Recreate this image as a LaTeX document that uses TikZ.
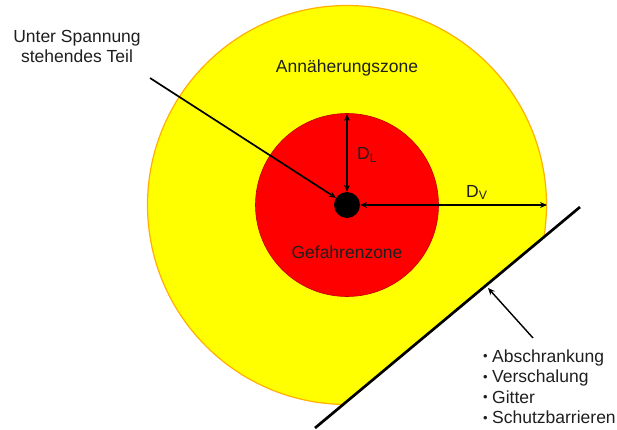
\documentclass[tikz,border=0pt]{standalone}
\usepackage{fontspec}
\setmainfont{Liberation Sans}
\usetikzlibrary{arrows.meta}
\definecolor{txt}{HTML}{1F1F1F}
\definecolor{zoneY}{HTML}{FFFF00}
\definecolor{zoneYedge}{HTML}{FFB000}
\definecolor{zoneR}{HTML}{FF0000}
\definecolor{zoneRedge}{HTML}{C00000}
\tikzset{
  lbl/.style={font=\fontsize{17.5}{20}\selectfont, text=txt, inner sep=0pt},
  arr/.style={line width=1.7pt, draw=black, -{Stealth[length=7pt,width=6pt]}},
  darr/.style={line width=1.7pt, draw=black, {Stealth[length=7pt,width=6pt]}-{Stealth[length=7pt,width=6pt]}},
  barrier/.style={line width=2.7pt, draw=black},
}
\begin{document}
\begin{tikzpicture}[x=1pt,y=-1pt]
\useasboundingbox (0,0) rectangle (617,430);
\fill[white] (0,0) rectangle (617,430);
\coordinate (c) at (347,205);
% yellow zone clipped by the barrier
\begin{scope}
  \clip (238,492) -- (657,143) -- (657,-100) -- (-100,-100) -- (-100,492) -- cycle;
  \fill[zoneY, draw=zoneYedge, line width=1.2pt] (c) circle (199.5);
\end{scope}
% red zone
\fill[zoneR, draw=zoneRedge, line width=0.6pt] (c) circle (91.5);
% live part
\node[circle, fill=black, minimum size=26pt, inner sep=0pt] (dot) at (c) {};
\coordinate (redtop) at (347,114);
\coordinate (yelright) at (547,205);
% labels
\node[lbl, align=center, anchor=base] (teil) at (77,63) {Unter Spannung\\stehendes Teil};
\node[lbl, anchor=base] (annz) at (347,72.3) {Annäherungszone};
\node[lbl, anchor=base] (gefz) at (347,258) {Gefahrenzone};
\node[lbl, anchor=base west] (dl) at (357,160) {D\textsubscript{L}};
\node[lbl, anchor=base west] (dv) at (466,197) {D\textsubscript{V}};
% arrows
\coordinate (teilstart) at (150,78);
\draw[arr] (teilstart) -- (dot);
\draw[darr] (redtop) -- (dot.north);
\draw[darr] (dot.east) -- (yelright);
% barrier
\coordinate (b1) at (315,428);
\coordinate (b2) at (580,207);
\draw[barrier] (b1) -- (b2);
% list
\newcommand{\smallbullet}{\makebox[9pt][l]{\raisebox{1.5pt}{\fontsize{13}{13}\selectfont •}}}
\node[lbl, anchor=base west] (l1) at (483,362) {\smallbullet Abschrankung};
\node[lbl, anchor=base west] (l2) at (483,382.5) {\smallbullet Verschalung};
\node[lbl, anchor=base west] (l3) at (483,403) {\smallbullet Gitter};
\node[lbl, anchor=base west] (l4) at (483,423.5) {\smallbullet Schutzbarrieren};
\coordinate (lststart) at (533,338);
\coordinate (bhit) at (488,288);
\draw[arr, line width=1.4pt] (lststart) -- (bhit);
\end{tikzpicture}
\end{document}
